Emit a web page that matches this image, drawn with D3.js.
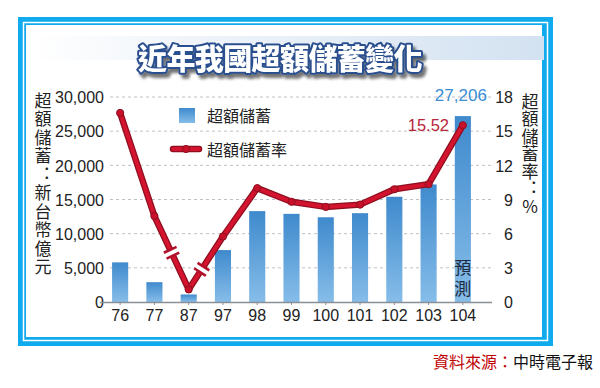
<!DOCTYPE html>
<html><head><meta charset="utf-8">
<script src="https://cdn.jsdelivr.net/npm/d3@7"></script>
<style>
html,body{margin:0;padding:0;background:#fff;}
svg{display:block;}
.vt{writing-mode:vertical-rl;text-orientation:upright;}
</style></head>
<body>
<svg id="c" width="600" height="388"></svg>
<script>
const categories = ["76","77","87","97","98","99","100","101","102","103","104"];
const savings = [5800, 2900, 1100, 7600, 13300, 12900, 12400, 13000, 15400, 17200, 27206];
const savingsRate = [16.6, 7.55, 1.1, 5.75, 10.0, 8.8, 8.35, 8.55, 9.9, 10.35, 15.52];
const leftTicks = [0, 5000, 10000, 15000, 20000, 25000, 30000];
const rightTicks = [0, 3, 6, 9, 12, 15, 18];
const title = "近年我國超額儲蓄變化";
const leftLabel = "超額儲蓄：新台幣億元";
const rightLabel = "超額儲蓄率：%";
const legendBar = "超額儲蓄";
const legendLine = "超額儲蓄率";
const forecastLabel = "預測";
const sourceLabel = "資料來源：";
const sourceName = "中時電子報";

const svg = d3.select("#c");
const FONT = "'Noto Sans CJK TC','Noto Sans',sans-serif";
const NUM = "'Liberation Sans','Arial',sans-serif";

// Frame
svg.append("rect").attr("x",18).attr("y",17).attr("width",535).attr("height",329).attr("fill","#10aaee");
svg.append("rect").attr("x",23.5).attr("y",22.5).attr("width",524).attr("height",318).attr("fill","none").attr("stroke","#ffffff").attr("stroke-width",1.5);
svg.append("rect").attr("x",26).attr("y",25).attr("width",516).attr("height",312).attr("fill","#ffffff");

const defs = svg.append("defs");
const band = defs.append("linearGradient").attr("id","band").attr("x1","0").attr("x2","1");
band.append("stop").attr("offset","0").attr("stop-color","#ffffff");
band.append("stop").attr("offset","0.35").attr("stop-color","#eef3f9");
band.append("stop").attr("offset","1").attr("stop-color","#d3e2f1");
const barG = defs.append("linearGradient").attr("id","barg").attr("x1","0").attr("x2","0").attr("y1","0").attr("y2","1");
barG.append("stop").attr("offset","0").attr("stop-color","#3f8acd");
barG.append("stop").attr("offset","1").attr("stop-color","#86bde9");
const shadow = defs.append("filter").attr("id","shadow").attr("x","-10%").attr("y","-30%").attr("width","130%").attr("height","180%");
shadow.append("feGaussianBlur").attr("in","SourceAlpha").attr("stdDeviation","1.5").attr("result","b");
shadow.append("feOffset").attr("in","b").attr("dx","3").attr("dy","4").attr("result","o");
shadow.append("feComponentTransfer").attr("in","o").attr("result","o2").append("feFuncA").attr("type","linear").attr("slope","0.55");
const fm = shadow.append("feMerge");
fm.append("feMergeNode").attr("in","o2");
fm.append("feMergeNode").attr("in","SourceGraphic");

// title band
svg.append("rect").attr("x",30).attr("y",36).attr("width",514).attr("height",24).attr("fill","url(#band)");
svg.append("text").attr("x",280).attr("y",70).attr("text-anchor","middle")
  .attr("font-family",FONT).attr("font-weight",900).attr("font-size",29)
  .attr("fill","#ffffff").attr("stroke","#2b4f8e").attr("stroke-width",4)
  .attr("paint-order","stroke").attr("stroke-linejoin","round")
  .attr("letter-spacing",-0.6)
  .attr("filter","url(#shadow)").text(title);

// Scales
const x = d3.scaleBand().domain(categories).range([103,480]).paddingInner(0.53).paddingOuter(0.265);
const yL = d3.scaleLinear().domain([0,30000]).range([302,97]);
const yR = d3.scaleLinear().domain([0,18]).range([302,97]);

// gridlines
svg.append("g").selectAll("line").data(leftTicks.filter(d=>d>0)).join("line")
  .attr("x1",110).attr("x2",492).attr("y1",d=>yL(d)).attr("y2",d=>yL(d))
  .attr("stroke","#bcc1c7").attr("stroke-width",1).attr("stroke-dasharray","3,3");

// Left axis
const axL = d3.axisLeft(yL).tickValues(leftTicks).tickFormat(d3.format(",")).tickSize(0).tickPadding(2);
const gL = svg.append("g").attr("transform","translate(106,0)").call(axL);
gL.select(".domain").remove();
gL.selectAll("text").attr("font-family",NUM).attr("font-size",16).attr("fill","#222").attr("dy","0.36em");

// Right axis
const axR = d3.axisRight(yR).tickValues(rightTicks).tickSize(0).tickPadding(0);
const gR = svg.append("g").attr("transform","translate(513,0)").call(axR);
gR.select(".domain").remove();
gR.selectAll("text").attr("font-family",NUM).attr("font-size",16).attr("fill","#222").attr("text-anchor","end").attr("dy","0.36em");

// Bars
svg.append("g").selectAll("rect").data(savings).join("rect")
  .attr("x",(d,i)=>x(categories[i]))
  .attr("width",x.bandwidth())
  .attr("y",d=>yL(d)).attr("height",d=>yL(0)-yL(d))
  .attr("fill","url(#barg)");

// X axis
const axB = d3.axisBottom(x).tickSize(3).tickPadding(5);
const gB = svg.append("g").attr("transform","translate(0,302)").call(axB);
gB.select(".domain").attr("d","M100,0.5H492").attr("stroke","#8a8f96").attr("stroke-width",1.5);
gB.selectAll(".tick line").attr("stroke","#8a8f96");
gB.selectAll("text").attr("font-family",NUM).attr("font-size",16).attr("fill","#222");

// Line
const pts = savingsRate.map((v,i)=>[x(categories[i])+x.bandwidth()/2, yR(v)]);
const line = d3.line();
svg.append("path").attr("d",line(pts)).attr("fill","none").attr("stroke","#8e0f1f").attr("stroke-width",6.5).attr("stroke-linejoin","round");
svg.append("path").attr("d",line(pts)).attr("fill","none").attr("stroke","#d4132e").attr("stroke-width",4).attr("stroke-linejoin","round");
svg.append("g").selectAll("circle").data(pts).join("circle")
  .attr("cx",d=>d[0]).attr("cy",d=>d[1]).attr("r",3.6).attr("fill","#c8102b").attr("stroke","#8e0f1f").attr("stroke-width",1);

// break marks
function brk(i, t){
  const a = pts[i], b = pts[i+1];
  const cx = a[0]+(b[0]-a[0])*t, cy = a[1]+(b[1]-a[1])*t;
  const ang = Math.atan2(b[1]-a[1], b[0]-a[0])*180/Math.PI;
  const g = svg.append("g").attr("transform",`translate(${cx},${cy}) rotate(${ang})`);
  g.append("rect").attr("x",-2.5).attr("y",-6).attr("width",5).attr("height",12).attr("fill","#ffffff");
  [-3.2,3.2].forEach(o=>{
    g.append("line").attr("x1",o).attr("x2",o).attr("y1",-7).attr("y2",7).attr("stroke","#b3112a").attr("stroke-width",2.6);
  });
}
brk(1,0.5);
brk(2,0.38);

// value labels
svg.append("text").attr("x",x("104")+x.bandwidth()/2-2).attr("y",yL(27206)-21).attr("text-anchor","middle").attr("dy","0.36em")
  .attr("font-family",NUM).attr("font-size",17).attr("fill","#3a8ed4").text(d3.format(",")(27206));
svg.append("text").attr("x",449).attr("y",yR(15.52)).attr("text-anchor","end").attr("dy","0.36em")
  .attr("font-family",NUM).attr("font-size",16.5).attr("fill","#b8263a").text("15.52");

// vertical text: a single text element in vertical writing mode
function vtext(str, cx, yTop, step, size, color){
  svg.append("text").attr("class","vt").attr("x",cx).attr("y",yTop)
    .attr("font-family",FONT).attr("font-size",size).attr("fill",color)
    .attr("letter-spacing",step-size)
    .style("font-feature-settings","'vert' 0, 'vrt2' 0")
    .text(str);
}
const fx = x("104")+x.bandwidth()/2;
vtext(forecastLabel, fx, 259, 21, 17, "#1d2b3f");

// Legend
svg.append("rect").attr("x",179).attr("y",108).attr("width",16).attr("height",15).attr("fill","url(#barg)");
svg.append("text").attr("x",207).attr("y",116).attr("dy","0.36em").attr("font-family",FONT).attr("font-size",16).attr("fill","#222").text(legendBar);
svg.append("line").attr("x1",173).attr("x2",199).attr("y1",149).attr("y2",149).attr("stroke","#8e0f1f").attr("stroke-width",6.5).attr("stroke-linecap","round");
svg.append("line").attr("x1",173).attr("x2",199).attr("y1",149).attr("y2",149).attr("stroke","#d4132e").attr("stroke-width",4).attr("stroke-linecap","round");
svg.append("circle").attr("cx",186).attr("cy",149).attr("r",3.6).attr("fill","#c8102b").attr("stroke","#8e0f1f");
svg.append("text").attr("x",207).attr("y",150).attr("dy","0.36em").attr("font-family",FONT).attr("font-size",16).attr("fill","#222").text(legendLine);

// vertical axis labels
vtext(leftLabel, 43, 92, 18.5, 17, "#222");
vtext(rightLabel, 530, 93, 17.5, 17, "#222");

// source
const src = svg.append("text").attr("x",593).attr("y",362).attr("text-anchor","end").attr("dy","0.36em")
  .attr("font-family",FONT).attr("font-size",16);
src.append("tspan").attr("fill","#c00000").text(sourceLabel);
src.append("tspan").attr("fill","#111").text(sourceName);
</script>
</body></html>
